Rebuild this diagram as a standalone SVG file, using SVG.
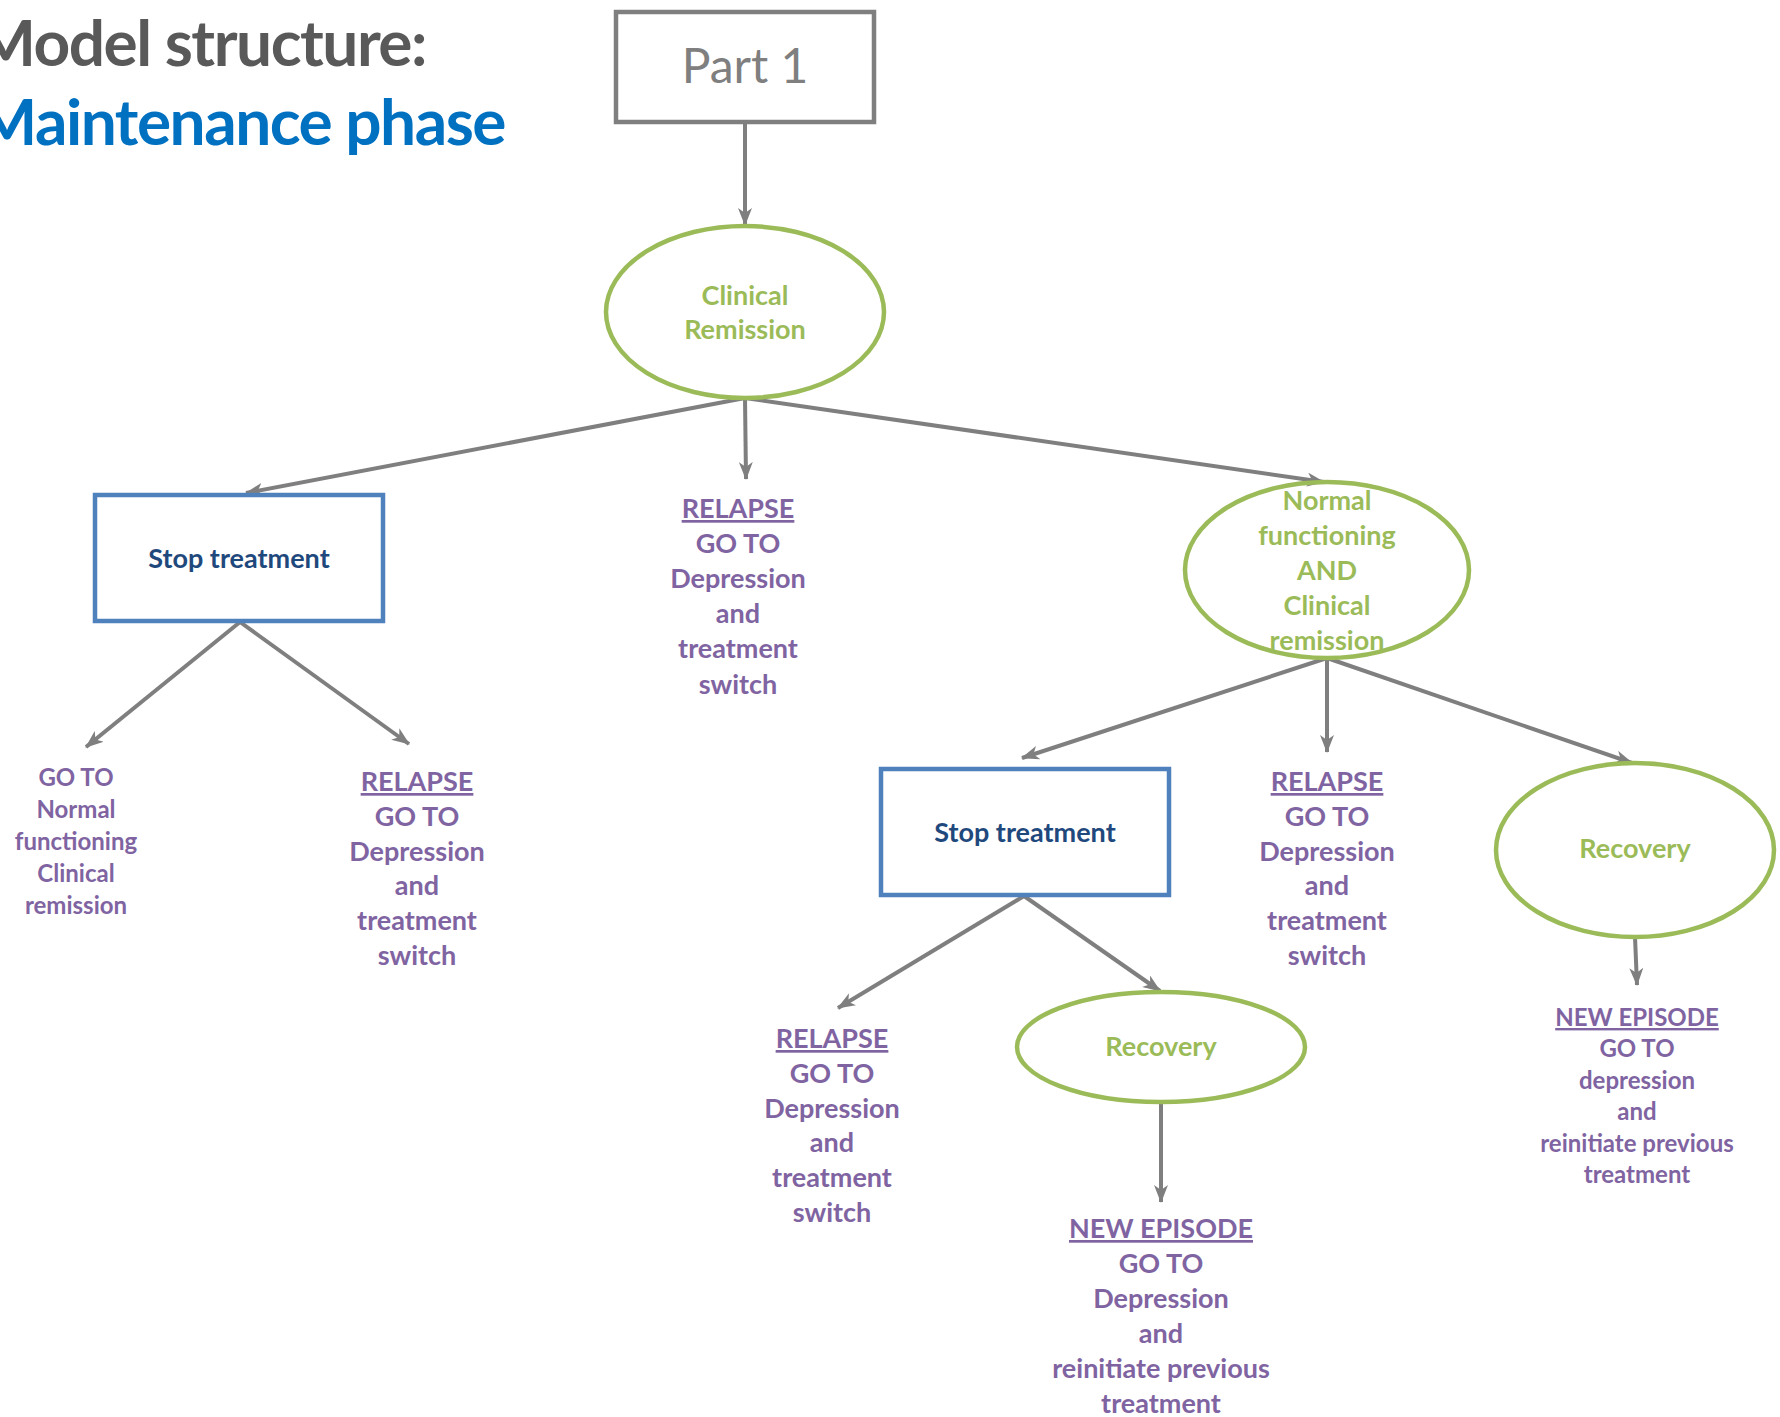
<svg xmlns="http://www.w3.org/2000/svg" width="1780" height="1417" viewBox="0 0 1780 1417">
<style>
.t{font-family:Lato,"Liberation Sans",sans-serif;font-weight:bold;text-anchor:middle}
.p{fill:#8064A2;font-size:27px}
.ps{fill:#8064A2;font-size:24px}
.g{fill:#9BBB59;font-size:27px}
.b{fill:#1F497D;font-size:27px}
.u{text-decoration:underline}
.ell{fill:none;stroke:#9BBB59;stroke-width:4.5}
.box{fill:none;stroke:#4F81BD;stroke-width:4.5}
.con line{stroke:#7F7F7F;stroke-width:4;marker-end:url(#ah)}
</style>
<defs>
<marker id="ah" markerUnits="userSpaceOnUse" markerWidth="18" markerHeight="14" viewBox="0 0 18 14" refX="17" refY="7" orient="auto">
<path d="M0,0 L18,7 L0,14 L5,7 z" fill="#7F7F7F"/>
</marker>
</defs>
<rect width="1780" height="1417" fill="#fff"/>
<g id="title">
<text x="426" y="66" class="t" style="text-anchor:end;font-size:64px;fill:#595959;letter-spacing:-1.5px">Model structure:</text>
<text x="505" y="145" class="t" style="text-anchor:end;font-size:64px;fill:#0070C0;letter-spacing:-1.5px">Maintenance phase</text>
</g>
<g class="con" id="connectors">
<line x1="745" y1="123" x2="745" y2="225"/>
<line x1="745" y1="398" x2="246" y2="493"/>
<line x1="745" y1="398" x2="746" y2="479"/>
<line x1="745" y1="398" x2="1324" y2="482"/>
<line x1="240" y1="622" x2="86" y2="747"/>
<line x1="240" y1="622" x2="409" y2="744"/>
<line x1="1327" y1="658" x2="1022" y2="758"/>
<line x1="1327" y1="658" x2="1327" y2="752"/>
<line x1="1327" y1="658" x2="1632" y2="763"/>
<line x1="1635" y1="937" x2="1637" y2="985"/>
<line x1="1024" y1="896" x2="838" y2="1008"/>
<line x1="1024" y1="896" x2="1160" y2="991"/>
<line x1="1161" y1="1103" x2="1161" y2="1202"/>
</g>
<g id="part1">
<rect x="616" y="12" width="258" height="110" fill="none" stroke="#7F7F7F" stroke-width="4.5"/>
<text x="745" y="83" style="font-family:Lato,'Liberation Sans',sans-serif;font-size:48px;fill:#7F7F7F;text-anchor:middle">Part 1</text>
</g>
<g id="clinical-remission">
<ellipse cx="745" cy="312" rx="139" ry="86" class="ell"/>
<text class="t g" x="745" y="305">Clinical</text>
<text class="t g" x="745" y="339">Remission</text>
</g>
<g id="stop1">
<rect x="95" y="495" width="288" height="126" class="box"/>
<text class="t b" x="239" y="568">Stop treatment</text>
</g>
<g id="relapse-mid" class="t p">
<text x="738" y="518" class="u">RELAPSE</text>
<text x="738" y="553">GO TO</text>
<text x="738" y="588">Depression</text>
<text x="738" y="623">and</text>
<text x="738" y="658">treatment</text>
<text x="738" y="694">switch</text>
</g>
<g id="goto-normal" class="t ps">
<text x="76" y="786">GO TO</text>
<text x="76" y="818">Normal</text>
<text x="76" y="850">functioning</text>
<text x="76" y="882">Clinical</text>
<text x="76" y="914">remission</text>
</g>
<g id="relapse-left" class="t p">
<text x="417" y="791" class="u">RELAPSE</text>
<text x="417" y="826">GO TO</text>
<text x="417" y="861">Depression</text>
<text x="417" y="895">and</text>
<text x="417" y="930">treatment</text>
<text x="417" y="965">switch</text>
</g>
<g id="normal-functioning">
<ellipse cx="1327" cy="570" rx="142" ry="88" class="ell"/>
<text class="t g" x="1327" y="510">Normal</text>
<text class="t g" x="1327" y="545">functioning</text>
<text class="t g" x="1327" y="580">AND</text>
<text class="t g" x="1327" y="615">Clinical</text>
<text class="t g" x="1327" y="650">remission</text>
</g>
<g id="stop2">
<rect x="881" y="769" width="288" height="126" class="box"/>
<text class="t b" x="1025" y="842">Stop treatment</text>
</g>
<g id="relapse-right" class="t p">
<text x="1327" y="791" class="u">RELAPSE</text>
<text x="1327" y="826">GO TO</text>
<text x="1327" y="861">Depression</text>
<text x="1327" y="895">and</text>
<text x="1327" y="930">treatment</text>
<text x="1327" y="965">switch</text>
</g>
<g id="recovery-right">
<ellipse cx="1635" cy="850" rx="139" ry="87" class="ell"/>
<text class="t g" x="1635" y="858">Recovery</text>
</g>
<g id="newepisode-right" class="t ps">
<text x="1637" y="1026" class="u">NEW EPISODE</text>
<text x="1637" y="1057">GO TO</text>
<text x="1637" y="1089">depression</text>
<text x="1637" y="1120">and</text>
<text x="1637" y="1152">reinitiate previous</text>
<text x="1637" y="1183">treatment</text>
</g>
<g id="relapse-lower" class="t p">
<text x="832" y="1048" class="u">RELAPSE</text>
<text x="832" y="1083">GO TO</text>
<text x="832" y="1118">Depression</text>
<text x="832" y="1152">and</text>
<text x="832" y="1187">treatment</text>
<text x="832" y="1222">switch</text>
</g>
<g id="recovery-lower">
<ellipse cx="1161" cy="1047" rx="144" ry="55" class="ell"/>
<text class="t g" x="1161" y="1056">Recovery</text>
</g>
<g id="newepisode-lower" class="t p">
<text x="1161" y="1238" class="u">NEW EPISODE</text>
<text x="1161" y="1273">GO TO</text>
<text x="1161" y="1308">Depression</text>
<text x="1161" y="1343">and</text>
<text x="1161" y="1378">reinitiate previous</text>
<text x="1161" y="1413">treatment</text>
</g>
</svg>
